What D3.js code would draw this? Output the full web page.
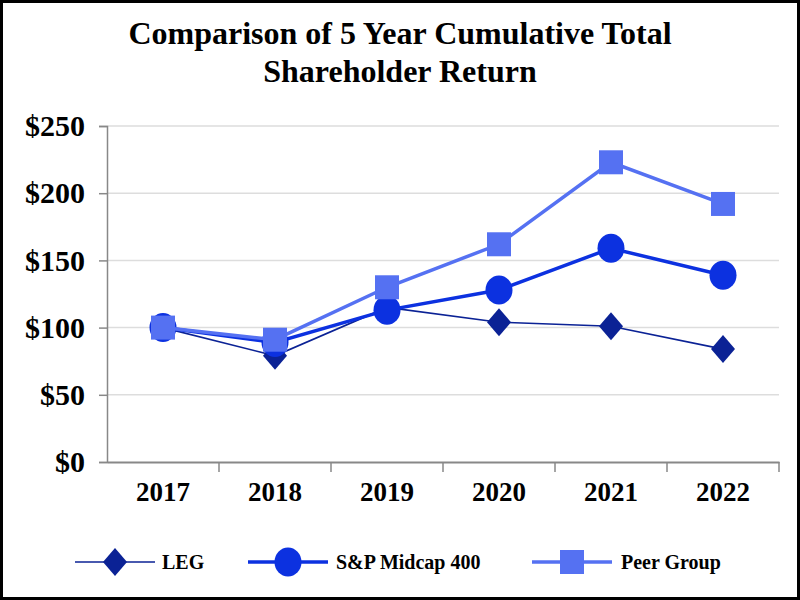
<!DOCTYPE html>
<html>
<head>
<meta charset="utf-8">
<script src="https://cdn.jsdelivr.net/npm/d3@7"></script>
<style>
  body { margin: 0; background: #fff; }
  svg { display: block; font-family: "Liberation Serif", "Times New Roman", serif; }
</style>
</head>
<body>
<div id="chart"></div>
<script>
var years = ['2017', '2018', '2019', '2020', '2021', '2022'];
var legValues = [100, 79, 115, 104, 101, 84];
var midcapValues = [100, 89, 113, 128, 159, 139];
var peerValues = [100, 91, 130, 162, 223, 192];
var yTicks = [0, 50, 100, 150, 200, 250];

var series = [
    {name: 'LEG', values: legValues, color: '#0b2295', width: 1.6, shape: 'diamond'},
    {name: 'S&P Midcap 400', values: midcapValues, color: '#0c31e0', width: 3.5, shape: 'circle'},
    {name: 'Peer Group', values: peerValues, color: '#5571f2', width: 3.5, shape: 'square'}
];

var W = 800, H = 600;
var svg = d3.select('#chart').append('svg')
    .attr('width', W)
    .attr('height', H);

svg.append('rect')
    .attr('x', 1.5).attr('y', 1.5)
    .attr('width', W - 3).attr('height', H - 3)
    .attr('fill', '#fff')
    .attr('stroke', '#000')
    .attr('stroke-width', 3);

var title = svg.append('text')
    .attr('text-anchor', 'middle')
    .attr('font-weight', 'bold')
    .attr('font-size', 32);
title.append('tspan').attr('x', 400).attr('y', 44).text('Comparison of 5 Year Cumulative Total');
title.append('tspan').attr('x', 400).attr('y', 82).text('Shareholder Return');

var plotL = 107, plotR = 779, plotT = 126, plotB = 462;

var x = d3.scaleBand().domain(years).range([plotL, plotR]);
var y = d3.scaleLinear().domain([0, 250]).range([plotB, plotT]);

// gridlines
svg.append('g').selectAll('line').data(yTicks.slice(1)).enter().append('line')
    .attr('x1', plotL).attr('x2', plotR)
    .attr('y1', function(d) { return y(d); })
    .attr('y2', function(d) { return y(d); })
    .attr('stroke', '#dddddd')
    .attr('stroke-width', 1.5);

var yAxis = svg.append('g')
    .attr('transform', 'translate(' + plotL + ',0)')
    .call(d3.axisLeft(y).tickValues(yTicks).tickSize(8).tickPadding(14)
        .tickFormat(function(d) { return '$' + d; }));
yAxis.select('.domain').attr('stroke', '#888').attr('stroke-width', 1.5);
yAxis.selectAll('.tick line').attr('stroke', '#888').attr('stroke-width', 1.5);
yAxis.selectAll('.tick text')
    .attr('font-family', '"Liberation Serif", serif')
    .attr('font-weight', 'bold')
    .attr('font-size', 30)
    .attr('fill', '#000');

var xAxis = svg.append('g')
    .attr('transform', 'translate(0,' + plotB + ')')
    .call(d3.axisBottom(x).tickSize(0).tickPadding(20));
xAxis.select('.domain').attr('stroke', '#888').attr('stroke-width', 2);
xAxis.selectAll('.tick text')
    .attr('font-family', '"Liberation Serif", serif')
    .attr('font-weight', 'bold')
    .attr('font-size', 27)
    .attr('fill', '#000');
// band boundary ticks
xAxis.selectAll('.bandtick').data(years).enter().append('line')
    .attr('x1', function(d) { return x(d) + x.step(); })
    .attr('x2', function(d) { return x(d) + x.step(); })
    .attr('y1', 0).attr('y2', 10)
    .attr('stroke', '#888').attr('stroke-width', 1.5);

function drawMarker(g, shape, color) {
    if (shape === 'diamond') {
        g.append('path').attr('d', 'M0,-14L12,0L0,14L-12,0Z').attr('fill', color);
    } else if (shape === 'circle') {
        g.append('ellipse').attr('rx', 13.5).attr('ry', 14.5).attr('fill', color);
    } else {
        g.append('rect').attr('x', -12).attr('y', -12).attr('width', 24).attr('height', 24).attr('fill', color);
    }
}

var line = d3.line()
    .x(function(d, i) { return x(years[i]) + x.bandwidth() / 2; })
    .y(function(d) { return y(d); });

series.forEach(function(s) {
    svg.append('path')
        .datum(s.values)
        .attr('d', line)
        .attr('fill', 'none')
        .attr('stroke', s.color)
        .attr('stroke-width', s.width);
    s.values.forEach(function(v, i) {
        var g = svg.append('g')
            .attr('transform', 'translate(' + (x(years[i]) + x.bandwidth() / 2) + ',' + y(v) + ')');
        drawMarker(g, s.shape, s.color);
    });
});

// legend
var legendPos = [{lx: 75, tx: 162}, {lx: 248, tx: 336}, {lx: 532, tx: 621}];
series.forEach(function(s, i) {
    var p = legendPos[i];
    var g = svg.append('g').attr('transform', 'translate(0,562)');
    g.append('line')
        .attr('x1', p.lx).attr('x2', p.lx + 80)
        .attr('y1', 0).attr('y2', 0)
        .attr('stroke', s.color)
        .attr('stroke-width', s.width);
    var m = g.append('g').attr('transform', 'translate(' + (p.lx + 40) + ',0)');
    drawMarker(m, s.shape, s.color);
    g.append('text')
        .attr('x', p.tx).attr('y', 7)
        .attr('font-weight', 'bold')
        .attr('font-size', 20)
        .text(s.name);
});
</script>
</body>
</html>
